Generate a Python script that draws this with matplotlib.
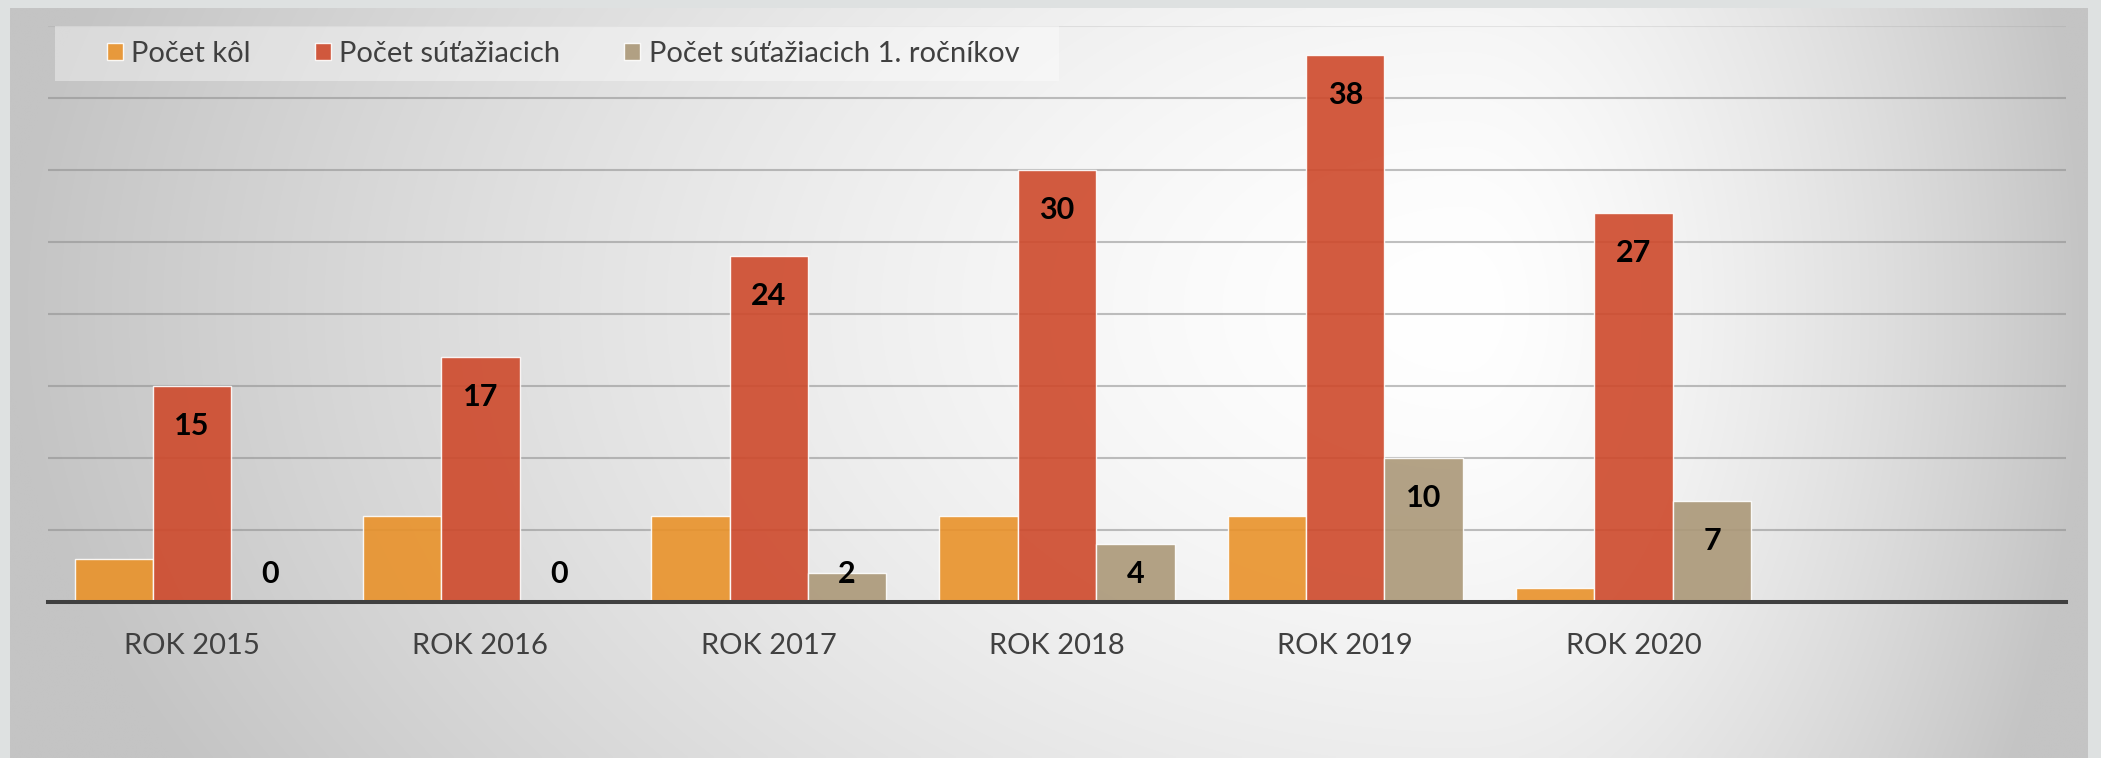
import numpy as np
import matplotlib
matplotlib.use('Agg')
import matplotlib.pyplot as plt
from matplotlib.patches import Rectangle

# ---- data ----
categories = ['ROK 2015', 'ROK 2016', 'ROK 2017', 'ROK 2018', 'ROK 2019', 'ROK 2020']
series_names = ['Počet kôl', 'Počet súťažiacich', 'Počet súťažiacich 1. ročníkov']
pocet_kol = [3, 6, 6, 6, 6, 1]
pocet_sutaziacich = [15, 17, 24, 30, 38, 27]
pocet_prvakov = [0, 0, 2, 4, 10, 7]
show_labels = [False, True, True]

plt.rcParams['font.family'] = ['Lato', 'DejaVu Sans']

W, H = 2101, 758
DPI = 100
fig = plt.figure(figsize=(W / DPI, H / DPI), dpi=DPI, facecolor='#DEE1E1')

# ---- background gradient panel ----
bg = fig.add_axes([10 / W, 0, (2088 - 10) / W, (H - 8) / H], zorder=0)
nx, ny = 700, 260
xs = np.linspace(0, 1, nx)
ys = np.linspace(0, 1, ny)
X, Y = np.meshgrid(xs, ys)
cx, cy = 0.70, 0.40
dx = np.where(X < cx, (X - cx) / cx, (X - cx) / (1 - cx))
dy = (Y - cy) / 1.3
d = np.clip(np.sqrt(dx ** 2 + dy ** 2), 0, 1)
val = 1 - (1 - 196 / 255) * d ** 1.5
img = np.dstack([val, val, val])
bg.imshow(img, aspect='auto', interpolation='bilinear')
bg.axis('off')

# ---- main axes ----
ax = fig.add_axes([48 / W, 1 - 602 / H, 2018 / W, 576 / H], zorder=1)
ax.patch.set_alpha(0)

x = np.arange(len(categories))
bw = 0.272
colors = ['#E9922A', '#CE492B', '#AB9878']
values = [pocet_kol, pocet_sutaziacich, pocet_prvakov]
containers = []
for i, (vals, c, name) in enumerate(zip(values, colors, series_names)):
    bars = ax.bar(x + (i - 1) * bw, vals, bw, color=c, alpha=0.9,
                  edgecolor='white', linewidth=1, label=name, zorder=2)
    containers.append(bars)

ax.set_xlim(-0.5, len(categories) + 0.5)
ax.set_ylim(0, 40)
ax.set_yticks(np.arange(0, 41, 5))
ax.yaxis.grid(True, color='#8C8C8C', alpha=0.55, lw=1.5)
ax.set_axisbelow(True)
gl = ax.yaxis.get_gridlines()
gl[-1].set_alpha(0.18)
ax.tick_params(axis='y', left=False, labelleft=False)
ax.set_xticks(x, categories)
ax.tick_params(axis='x', length=0, pad=22, labelsize=21, labelcolor='#404040')
for s in ['left', 'right', 'top']:
    ax.spines[s].set_visible(False)
ax.spines['bottom'].set_color('#404040')
ax.spines['bottom'].set_linewidth(2.9)
ax.spines['bottom'].set_zorder(3)

# ---- data labels (inside end) ----
base_pix = ax.transData.transform((0, 0))[1]
inv = ax.transData.inverted()
for container, vals, show in zip(containers, values, show_labels):
    if not show:
        continue
    for rect, v in zip(container, vals):
        top_pix = ax.transData.transform((0, v))[1]
        ypix = max(top_pix - 40, base_pix + 28)
        ydata = inv.transform((0, ypix))[1]
        ax.text(rect.get_x() + rect.get_width() / 2, ydata, str(v),
                ha='center', va='center', fontsize=22, fontweight='bold',
                color='black', zorder=4)

# ---- legend ----
box = Rectangle((55 / W, 1 - 81 / H), (1059 - 55) / W, 55 / H,
                transform=fig.transFigure, facecolor='white', alpha=0.38,
                edgecolor='none', zorder=4, clip_on=False)
ax.add_patch(box)
leg = ax.legend(handles=containers, loc='center left',
                bbox_to_anchor=(107 / W, 1 - 54 / H), bbox_transform=fig.transFigure,
                ncol=3, frameon=False, fontsize=21, handlelength=0.55,
                handleheight=0.55, handletextpad=0.28, columnspacing=2.2,
                borderpad=0, borderaxespad=0)
leg.set_zorder(5)
for t in leg.get_texts():
    t.set_color('#404040')

fig.savefig('out.png', dpi=DPI, facecolor=fig.get_facecolor())
